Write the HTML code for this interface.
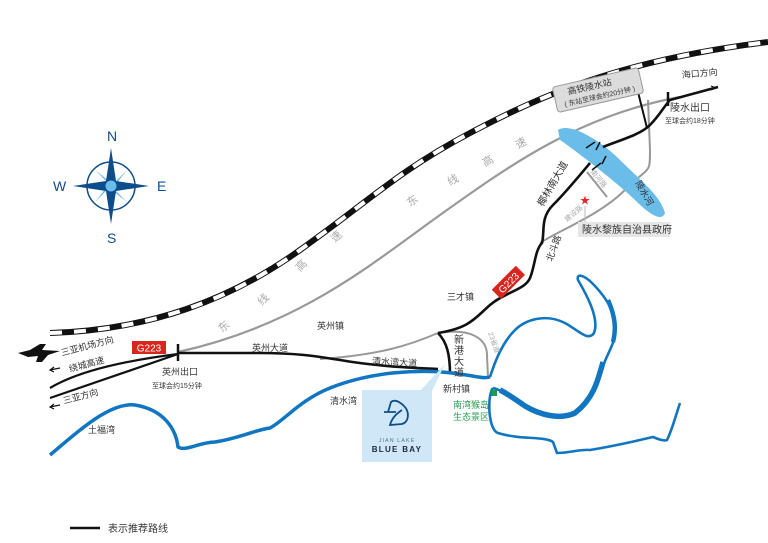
<!DOCTYPE html>
<html><head><meta charset="utf-8"><style>
html,body{margin:0;padding:0;background:#fff}
svg{display:block}
text{font-family:"Liberation Sans","Noto Sans CJK SC",sans-serif}
</style></head><body>
<svg width="768" height="543" viewBox="0 0 768 543" xmlns="http://www.w3.org/2000/svg">
<rect width="768" height="543" fill="#fff"/>
<!-- railway -->
<path d="M50,333 C150,330 230,300 300,250 S 400,170 470,133 S 620,60 768,42" fill="none" stroke="#111" stroke-width="6"/>
<path d="M50,333 C150,330 230,300 300,250 S 400,170 470,133 S 620,60 768,42" fill="none" stroke="#fff" stroke-width="4" stroke-dasharray="12 12"/>
<!-- east highway -->
<path d="M178,352 C300,325 370,265 440,215 S 580,115 680,97" fill="none" stroke="#999" stroke-width="2.2"/>
<g fill="#aaa" font-size="11">
<text x="222" y="333" transform="rotate(-40 222 333)">东</text>
<text x="262" y="306" transform="rotate(-45 262 306)">线</text>
<text x="300" y="272" transform="rotate(-45 300 272)">高</text>
<text x="335" y="243" transform="rotate(-45 335 243)">速</text>
<text x="410" y="207" transform="rotate(-35 410 207)">东</text>
<text x="450" y="186" transform="rotate(-30 450 186)">线</text>
<text x="485" y="167" transform="rotate(-30 485 167)">高</text>
<text x="518" y="149" transform="rotate(-30 518 149)">速</text>
</g>
<!-- gray roads -->
<path d="M320,359 C380,355 410,345 438,333" fill="none" stroke="#999" stroke-width="2"/>
<path d="M438,333 C470,328 487,338 487,355 L488,378" fill="none" stroke="#999" stroke-width="2"/>
<path d="M540,243 C560,230 600,215 625,190 S 650,175 650,150 L648,100" fill="none" stroke="#999" stroke-width="2"/>
<path d="M587,172 L607,197" fill="none" stroke="#999" stroke-width="2"/>
<!-- Lingshui river -->
<path d="M558,130 C570,122 600,140 620,160 S 660,195 665,213 C662,222 650,215 635,200 S 575,150 560,140 Z" fill="#6bbde9"/>
<!-- left roads -->
<path d="M50,388 C80,370 130,360 178,354" fill="none" stroke="#111" stroke-width="2.2"/>
<path d="M50,398 L178,354" fill="none" stroke="#111" stroke-width="2.2"/>
<!-- main recommended route -->
<path d="M178,353 L260,353 C300,353 320,357 340,360 C380,367 420,368 438,369" fill="none" stroke="#111" stroke-width="2.6"/>
<path d="M438,333 C470,328 475,318 490,305 S 525,290 530,278 S 535,250 542,243 C545,232 540,218 553,205 S 580,175 590,163" fill="none" stroke="#111" stroke-width="2.6"/>
<path d="M603,147 C620,140 640,135 650,125 S 665,105 670,100 L718,87" fill="none" stroke="#111" stroke-width="2.6"/>
<path d="M638,92 L647,128" fill="none" stroke="#111" stroke-width="2"/>
<path d="M438,333 C447,342 450,355 450,374" fill="none" stroke="#111" stroke-width="2.6"/>
<!-- bridges -->
<path d="M586,148 L595,142 M592,170 L601,163 M596,150 L600,142 M602,164 L606,156" stroke="#111" stroke-width="1.5" fill="none"/>
<path d="M178,344 V361" stroke="#111" stroke-width="2.5"/>
<path d="M668,92 V106" stroke="#111" stroke-width="2.5"/>
<path d="M700,92 L714,88 M711,86 L716,88 L711,90" stroke="#111" stroke-width="1.2" fill="none"/>
<path d="M60,368 L50,370 M54,367 L50,370 L54,372" stroke="#111" stroke-width="1.2" fill="none"/>
<path d="M60,405 L50,407 M54,404 L50,407 L54,409" stroke="#111" stroke-width="1.2" fill="none"/>
<!-- plane -->
<path d="M18,353 L30,350 L40,344 L46,344 L42,350 L60,351 L48,355 L42,362 L36,362 L38,356 L28,357 Z" fill="#111"/>
<!-- coast river -->
<path d="M50,455 C80,430 110,402 135,405 C165,410 176,430 178,447 C185,452 200,442 215,442 C240,438 255,430 270,428 C285,420 300,400 330,388 C370,372 420,368 460,374 C475,376 483,379 490,377" fill="none" stroke="#1176c1" stroke-width="3.5"/>
<path d="M490,377 C493,368 500,345 515,330 C525,320 545,313 565,323 C578,330 588,342 594,333 C600,318 585,292 578,280 C576,273 584,275 592,283 C612,303 618,320 614,340 C610,352 604,360 600,375 C596,390 590,402 575,413 C560,420 540,415 525,406 C512,398 502,390 493,388" fill="none" stroke="#1176c1" stroke-width="2.6"/>
<path d="M603,362 C598,380 594,398 575,413 C560,420 540,415 525,406 C515,399 508,394 500,390" fill="none" stroke="#1176c1" stroke-width="5.5"/>
<path d="M608,300 C616,318 616,330 613,342" fill="none" stroke="#1176c1" stroke-width="4.5"/>
<path d="M493,388 C487,395 488,430 498,433 C520,440 545,436 553,442 L557,453 C570,453 580,449 590,450 C620,445 640,440 653,437 C660,440 665,441 667,440 C672,430 676,415 680,403" fill="none" stroke="#1176c1" stroke-width="2.6"/>
<!-- blue bay box -->
<path d="M420,391 L445,364 L432,391 Z" fill="#cfe7f6"/>
<rect x="362" y="390" width="70" height="72" fill="#cfe7f6"/>
<path d="M388,412 L391,402 C396,398 402,404 404,406 C410,412 409,422 402,424 L390,425 C392,418 396,414 402,410 M384,412 L396,412" fill="none" stroke="#0d4d8c" stroke-width="1.8"/>
<text x="397" y="442" font-size="5.5" fill="#5a7a90" text-anchor="middle" letter-spacing="1">JIAN LAKE</text>
<text x="397" y="452" font-size="8" fill="#1a2a3a" text-anchor="middle" font-weight="bold" letter-spacing="1.3">BLUE BAY</text>
<rect x="491" y="390" width="6" height="6" fill="#1a9b4a"/>
<!-- compass -->
<g transform="translate(111,186)">
<circle r="24" fill="none" stroke="#0d4d8c" stroke-width="1.5"/>
<path d="M0,0 L16,-16 L5,-2 Z M0,0 L16,16 L2,5 Z M0,0 L-16,16 L-5,2 Z M0,0 L-16,-16 L-2,-5 Z" fill="#6bbde9"/>
<path d="M0,-38 L5,-5 L38,0 L5,5 L0,38 L-5,5 L-38,0 L-5,-5 Z" fill="#0d4d8c"/>
<circle r="6" fill="#6bbde9" stroke="#0d4d8c" stroke-width="1"/>
</g>
<g fill="#0d4d8c" font-size="14">
<text x="107" y="141">N</text><text x="53" y="191">W</text><text x="157" y="191">E</text><text x="107" y="243">S</text>
</g>
<!-- station box -->
<g transform="rotate(-13 598 90)">
<rect x="554" y="77" width="88" height="26" rx="3" fill="#dcdcdc" stroke="#999"/>
<text x="568" y="88" font-size="9" fill="#333">高铁陵水站</text>
<text x="562" y="99" font-size="7" fill="#333">( 东站至球会约20分钟 )</text>
</g>
<rect x="578" y="222" width="92" height="15" fill="#e6e6e6"/>
<path d="M585,206 L585,222" stroke="#bbb"/>
<text x="585" y="204" font-size="10" fill="#e22" text-anchor="middle">★</text>
<text x="582" y="233" font-size="10" fill="#333">陵水黎族自治县政府</text>
<!-- G223 labels -->
<rect x="132" y="341" width="34" height="13" fill="#d7261e"/>
<text x="149" y="351.5" font-size="10" fill="#fff" text-anchor="middle">G223</text>
<g transform="rotate(-45 508 282)"><rect x="491" y="276" width="34" height="13" fill="#d7261e"/><text x="508" y="286.5" font-size="10" fill="#fff" text-anchor="middle">G223</text></g>
<!-- labels -->
<g font-size="9" fill="#333">
<text x="62" y="356" transform="rotate(-15 62 356)">三亚机场方向</text>
<text x="70" y="372" transform="rotate(-15 70 372)">绕城高速</text>
<text x="64" y="404" transform="rotate(-15 64 404)">三亚方向</text>
<text x="162" y="375">英州出口</text>
<text x="152" y="388" font-size="7">至球会约15分钟</text>
<text x="252" y="351">英州大道</text>
<text x="317" y="329">英州镇</text>
<text x="372" y="364" transform="rotate(3 372 364)">清水湾大道</text>
<text x="330" y="404">清水湾</text>
<text x="88" y="433">土福湾</text>
<text x="447" y="300">三才镇</text>
<text x="443" y="392">新村镇</text>
<text x="552" y="262" transform="rotate(-70 552 262)">北斗路</text>
<text x="543" y="207" transform="rotate(-60 543 207)" font-size="10">椰林南大道</text>
<text x="670" y="111" font-size="10">陵水出口</text>
<text x="665" y="123" font-size="7">至球会约18分钟</text>
<text x="682" y="78" transform="rotate(-5 682 78)">海口方向</text>
<text x="635" y="183" transform="rotate(60 635 183)">陵水河</text>
</g>
<g font-size="10" fill="#333"><text x="454" y="343">新</text><text x="454" y="354">港</text><text x="454" y="365">大</text><text x="454" y="376">道</text></g>
<g font-size="7" fill="#aaa">
<text x="567" y="222" transform="rotate(-40 567 222)">建设路</text>
<text x="590" y="172" transform="rotate(50 590 172)">南河路</text>
<text x="488" y="333" transform="rotate(70 488 333)">23省道</text>
</g>
<g font-size="9" fill="#2a9a50"><text x="453" y="408">南湾猴岛</text><text x="453" y="420">生态景区</text></g>
<!-- legend -->
<path d="M70,528 H100" stroke="#111" stroke-width="2.6"/>
<text x="108" y="532" font-size="10" fill="#333">表示推荐路线</text>
</svg>
</body></html>
